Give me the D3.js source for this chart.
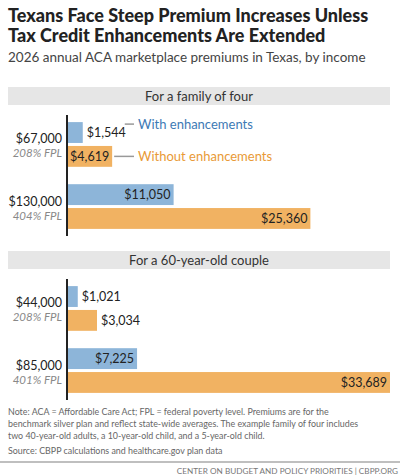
<!DOCTYPE html><html><head><meta charset="utf-8"><script src="https://d3js.org/d3.v7.min.js"></script>
<style>body{margin:0;background:#fff}svg{font-family:Lato,"Open Sans",sans-serif}</style></head><body><svg id="c" width="400" height="476"></svg><script>
const panels=["For a family of four","For a 60-year-old couple"];
const incomes=[["$67,000","$130,000"],["$44,000","$85,000"]];
const fpl=[["208% FPL","404% FPL"],["208% FPL","401% FPL"]];
const withEnh=[[1544,11050],[1021,7225]];
const withoutEnh=[[4619,25360],[3034,33689]];
const svg=d3.select("#c");
svg.append("text").attr("x",8).attr("y",22).attr("font-size",18).attr("font-weight",900).attr("fill","#222").text("Texans Face Steep Premium Increases Unless");
svg.append("text").attr("x",8).attr("y",42).attr("font-size",18).attr("font-weight",900).attr("fill","#222").text("Tax Credit Enhancements Are Extended");
svg.append("text").attr("x",8).attr("y",62).attr("font-size",13.5).attr("fill","#444").text("2026 annual ACA marketplace premiums in Texas, by income");
const x=d3.scaleLinear().domain([0,33689]).range([68,390]);
const fmt=d3.format("$,");
const tops=[87,251];
const blue="#8db5d9",orange="#f1b262";
panels.forEach((p,i)=>{
 const t=tops[i];
 svg.append("rect").attr("x",8).attr("y",t).attr("width",382).attr("height",18).attr("fill","#e6e6e6");
 svg.append("text").attr("x",199).attr("y",t+14).attr("text-anchor","middle").attr("font-size",13).attr("fill","#333").text(p);
 const y=d3.scaleBand().domain([0,1]).range([t+32,t+145]).paddingInner(0.28).paddingOuter(0.05);
 [0,1].forEach(g=>{
  const y0=y(g),bh=y.bandwidth()/2-1.5;
  const vals=[withEnh[i][g],withoutEnh[i][g]],cols=[blue,orange];
  vals.forEach((v,k)=>{
   const yy=y0+k*(bh+3);
   svg.append("rect").attr("x",x(0)).attr("y",yy).attr("width",x(v)-x(0)).attr("height",bh).attr("fill",cols[k]);
   const inside=x(v)-x(0)>40;
   svg.append("text").attr("x",inside?x(v)-3:x(v)+4).attr("y",yy+bh/2+4.5).attr("text-anchor",inside?"end":"start").attr("font-size",12.5).attr("fill","#222").text(fmt(v));
   if(i==0&&g==0){
    const ly=k==0?yy+2:yy+bh/2;
    svg.append("line").attr("x1",k==0?x(v)+42:x(v)+2).attr("x2",134).attr("y1",ly).attr("y2",ly).attr("stroke","#999").attr("stroke-width",1.5);
    svg.append("text").attr("x",138).attr("y",ly+4.5).attr("font-size",13).attr("fill",k==0?"#3d7ab5":"#e99a36").text(k==0?"With enhancements":"Without enhancements");
   }
  });
  const cy=y0+y.bandwidth()/2;
  svg.append("text").attr("x",62).attr("y",cy-1).attr("text-anchor","end").attr("font-size",12.5).attr("fill","#222").text(incomes[i][g]);
  svg.append("text").attr("x",62).attr("y",cy+13).attr("text-anchor","end").attr("font-size",11.5).attr("font-style","italic").attr("fill","#888").text(fpl[i][g]);
 });
 svg.append("line").attr("x1",67).attr("x2",67).attr("y1",t+28).attr("y2",t+149).attr("stroke","#222").attr("stroke-width",2);
});
const notes=["Note: ACA = Affordable Care Act; FPL = federal poverty level. Premiums are for the","benchmark silver plan and reflect state-wide averages. The example family of four includes","two 40-year-old adults, a 10-year-old child, and a 5-year-old child."];
notes.forEach((n,j)=>svg.append("text").attr("x",8).attr("y",415+j*12).attr("font-size",8.9).attr("fill","#666").text(n));
svg.append("text").attr("x",8).attr("y",454).attr("font-size",8.9).attr("fill","#666").text("Source: CBPP calculations and healthcare.gov plan data");
svg.append("line").attr("x1",0).attr("x2",400).attr("y1",462).attr("y2",462).attr("stroke","#aaa").attr("stroke-width",1.5);
svg.append("text").attr("x",398).attr("y",474).attr("text-anchor","end").attr("font-size",8.2).attr("fill","#777").text("CENTER ON BUDGET AND POLICY PRIORITIES | CBPP.ORG");
</script></body></html>
